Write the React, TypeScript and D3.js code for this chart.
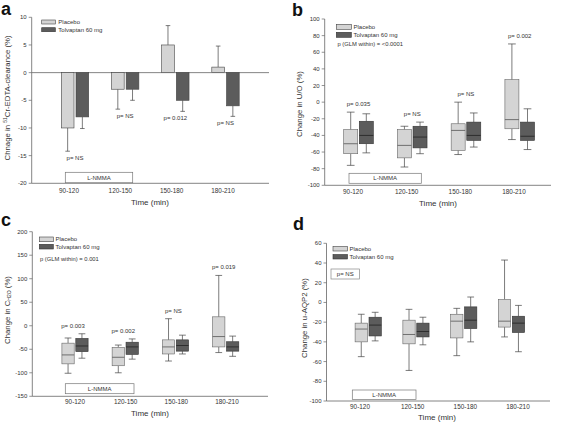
import React from "react";
import * as d3 from "d3";

// ---------- shared data ----------
const categories = ["90-120", "120-150", "150-180", "180-210"];
const seriesNames = ["Placebo", "Tolvaptan 60 mg"];

// ---------- panel a (bar chart, mean + one-sided error) ----------
const aPlaceboMean = [-10, -3, 5, 1];
const aPlaceboErr = [4.2, 3.6, 3.5, 3.8];
const aTolvMean = [-8, -3, -5, -6];
const aTolvErr = [2.1, 2.0, 2.0, 1.9];
const aPLabels = ["p= NS", "p= NS", "p= 0.012", "p= NS"];
const aTicks = [-20, -15, -10, -5, 0, 5, 10];

// ---------- panel b (box plots: [low, q1, median, q3, high]) ----------
const bPlacebo = [
  [-76, -62, -50, -33, -12],
  [-78, -67, -52, -33, -29],
  [-63, -58, -34, -26, 0],
  [-45, -32, -21, 27, 70],
];
const bTolv = [
  [-61, -50, -40, -23, -14],
  [-62, -55, -42, -29, -24],
  [-54, -46, -40, -24, -13],
  [-57, -46, -41, -24, -8],
];
const bPLabels = ["p= 0.035", "p= NS", "p= NS", "p= 0.002"];
const bTicks = [-100, -80, -60, -40, -20, 0, 20, 40, 60, 80, 100];
const bGlm = "p (GLM within) = <0.0001";

// ---------- panel c ----------
const cPlacebo = [
  [-101, -81, -62, -37, -26],
  [-100, -85, -67, -46, -41],
  [-75, -60, -45, -30, 15],
  [-57, -45, -23, 19, 107],
];
const cTolv = [
  [-69, -55, -43, -27, -17],
  [-71, -61, -45, -35, -28],
  [-60, -54, -42, -30, -20],
  [-65, -54, -45, -34, -22],
];
const cPLabels = ["p= 0.003", "p= 0.002", "p= NS", "p= 0.019"];
const cTicks = [-150, -100, -50, 0, 50, 100, 150, 200];
const cGlm = "p (GLM within) = 0.001";

// ---------- panel d ----------
const dPlacebo = [
  [-55, -40, -27, -21, -12],
  [-69, -42, -32.5, -18, -7],
  [-54, -36, -19, -12, -6],
  [-35, -25, -19, 3, 43],
];
const dTolv = [
  [-39, -34, -23, -15, -10],
  [-43, -35, -29.5, -21, -15],
  [-40, -26.5, -18, -4.5, 5.5],
  [-50, -30.5, -21, -14, -3],
];
const dTicks = [-100, -80, -60, -40, -20, 0, 20, 40, 60];
const dPText = "p= NS";

const FONT = "'Liberation Sans', Arial, Helvetica, sans-serif";
const PLACEBO_FILL = "#d4d4d4";
const TOLV_FILL = "#5c5c5c";
const LINE = "#666";

type AxisCfg = {
  axisX: number;
  xEnd: number;
  yTop: number;
  yBottom: number;
  domain: [number, number];
  ticks: number[];
};

function YAxis({ cfg, y }: { cfg: AxisCfg; y: d3.ScaleLinear<number, number> }) {
  return (
    <g>
      <line x1={cfg.axisX} x2={cfg.axisX} y1={cfg.yTop} y2={cfg.yBottom} stroke={LINE} strokeWidth={0.8} />
      <line x1={cfg.axisX} x2={cfg.xEnd} y1={cfg.yBottom} y2={cfg.yBottom} stroke={LINE} strokeWidth={0.8} />
      {cfg.ticks.map((t) => (
        <g key={t}>
          <line x1={cfg.axisX - 3} x2={cfg.axisX} y1={y(t)} y2={y(t)} stroke={LINE} strokeWidth={0.7} />
          <text x={cfg.axisX - 5} y={y(t)} fontSize={6} textAnchor="end" dominantBaseline="central" fill="#333" fontFamily={FONT}>
            {t}
          </text>
        </g>
      ))}
    </g>
  );
}

function XLabels({ xl, baseY, titleX, titleY }: { xl: d3.ScalePoint<string>; baseY: number; titleX: number; titleY: number }) {
  return (
    <g fontFamily={FONT} fill="#333">
      {categories.map((c) => (
        <text key={c} x={xl(c)} y={baseY} fontSize={6.4} textAnchor="middle">
          {c}
        </text>
      ))}
      <text x={titleX} y={titleY} fontSize={8} textAnchor="middle">
        Time (min)
      </text>
    </g>
  );
}

function Legend({ x, y1, y2, w, h, tx }: { x: number; y1: number; y2: number; w: number; h: number; tx: number }) {
  return (
    <g fontFamily={FONT} fill="#333">
      <rect x={x} y={y1} width={w} height={h} fill={PLACEBO_FILL} stroke="#444" strokeWidth={0.6} />
      <rect x={x} y={y2} width={w} height={h} fill={TOLV_FILL} stroke="#333" strokeWidth={0.6} />
      <text x={tx} y={y1 + h / 2} fontSize={6} dominantBaseline="central">{seriesNames[0]}</text>
      <text x={tx} y={y2 + h / 2} fontSize={6} dominantBaseline="central">{seriesNames[1]}</text>
    </g>
  );
}

function LNMMA({ x1, x2, y1, y2 }: { x1: number; x2: number; y1: number; y2: number }) {
  return (
    <g>
      <rect x={x1} y={y1} width={x2 - x1} height={y2 - y1} fill="#fff" stroke="#777" strokeWidth={0.7} />
      <text x={(x1 + x2) / 2} y={(y1 + y2) / 2} fontSize={6} textAnchor="middle" dominantBaseline="central" fontFamily={FONT} fill="#333">
        L-NMMA
      </text>
    </g>
  );
}

function YTitle({ x, y, children }: { x: number; y: number; children: React.ReactNode }) {
  return (
    <text transform={`translate(${x},${y}) rotate(-90)`} fontSize={7.8} textAnchor="middle" dominantBaseline="central" fontFamily={FONT} fill="#333">
      {children}
    </text>
  );
}

function Letter({ x, y, t }: { x: number; y: number; t: string }) {
  return (
    <text x={x} y={y} fontSize={18} fontWeight="bold" fontFamily={FONT} fill="#111">
      {t}
    </text>
  );
}

// ---------- panel a ----------
function PanelA() {
  const cfg: AxisCfg = { axisX: 31.7, xEnd: 269, yTop: 17.3, yBottom: 183.3, domain: [-20, 10], ticks: aTicks };
  const y = d3.scaleLinear().domain(cfg.domain).range([cfg.yBottom, cfg.yTop]);
  const xg = d3.scalePoint<string>().domain(categories).range([75, 225.5]);
  const xl = d3.scalePoint<string>().domain(categories).range([69, 223]);
  const bw = 12.7;
  const gap = 1;
  const series = [
    { mean: aPlaceboMean, err: aPlaceboErr, fill: PLACEBO_FILL, dx: -gap - bw },
    { mean: aTolvMean, err: aTolvErr, fill: TOLV_FILL, dx: gap },
  ];
  return (
    <g>
      <Letter x={1} y={15} t="a" />
      <YAxis cfg={cfg} y={y} />
      <line x1={cfg.axisX} x2={cfg.xEnd} y1={y(0)} y2={y(0)} stroke={LINE} strokeWidth={0.8} />
      {series.map((s, si) =>
        categories.map((c, i) => {
          const x0 = (xg(c) as number) + s.dx;
          const v = s.mean[i];
          const end = v >= 0 ? v + s.err[i] : v - s.err[i];
          const cx = x0 + bw / 2;
          return (
            <g key={`${si}-${c}`}>
              <line x1={cx} x2={cx} y1={y(v)} y2={y(end)} stroke="#444" strokeWidth={0.7} />
              <line x1={cx - 2.3} x2={cx + 2.3} y1={y(end)} y2={y(end)} stroke="#444" strokeWidth={0.7} />
              <rect x={x0} y={Math.min(y(v), y(0))} width={bw} height={Math.abs(y(v) - y(0))} fill={s.fill} stroke="#444" strokeWidth={0.6} />
            </g>
          );
        })
      )}
      {categories.map((c, i) => {
        const ends = [
          aPlaceboMean[i] >= 0 ? aPlaceboMean[i] : aPlaceboMean[i] - aPlaceboErr[i],
          aTolvMean[i] >= 0 ? aTolvMean[i] : aTolvMean[i] - aTolvErr[i],
        ];
        const low = Math.min(...ends);
        return (
          <text key={c} x={xg(c)} y={y(low) + 7} fontSize={6} textAnchor="middle" dominantBaseline="central" fontFamily={FONT} fill="#333">
            {aPLabels[i]}
          </text>
        );
      })}
      <Legend x={41.7} y1={20} y2={27.7} w={13.6} h={4} tx={58.3} />
      <LNMMA x1={65.3} x2={132.7} y1={172.3} y2={182.7} />
      <YTitle x={7} y={98}>
        Chnage in <tspan fontSize={5} dy={-2.5}>51</tspan>
        <tspan dy={2.5}>Cr-EDTA-clearance (%)</tspan>
      </YTitle>
      <XLabels xl={xl} baseY={193} titleX={150} titleY={204.5} />
    </g>
  );
}

// ---------- generic box panel ----------
type BoxPanelProps = {
  letter: string;
  letterPos: [number, number];
  cfg: AxisCfg;
  groupRange: [number, number];
  labelRange: [number, number];
  bw: number;
  gap: number;
  placebo: number[][];
  tolv: number[][];
  pLabels?: string[];
  pOffset?: number;
  pShift?: number;
  legend: { x: number; y1: number; y2: number; w: number; h: number; tx: number };
  glm?: { text: string; x: number; y: number };
  lnmma: { x1: number; x2: number; y1: number; y2: number };
  yTitle: { x: number; y: number; node: React.ReactNode };
  xLab: { baseY: number; titleX: number; titleY: number };
  pBox?: { x1: number; x2: number; y1: number; y2: number; text: string };
};

function BoxPanel(p: BoxPanelProps) {
  const { cfg } = p;
  const y = d3.scaleLinear().domain(cfg.domain).range([cfg.yBottom, cfg.yTop]);
  const xg = d3.scalePoint<string>().domain(categories).range(p.groupRange);
  const xl = d3.scalePoint<string>().domain(categories).range(p.labelRange);
  const series = [
    { data: p.placebo, fill: PLACEBO_FILL, stroke: "#666", med: "#555", dx: -p.gap - p.bw },
    { data: p.tolv, fill: TOLV_FILL, stroke: "#333", med: "#222", dx: p.gap },
  ];
  const cap = p.bw * 0.55;
  return (
    <g>
      <Letter x={p.letterPos[0]} y={p.letterPos[1]} t={p.letter} />
      <YAxis cfg={cfg} y={y} />
      {series.map((s, si) =>
        categories.map((c, i) => {
          const [lo, q1, med, q3, hi] = s.data[i];
          const x0 = (xg(c) as number) + s.dx;
          const cx = x0 + p.bw / 2;
          return (
            <g key={`${si}-${c}`}>
              <line x1={cx} x2={cx} y1={y(hi)} y2={y(q3)} stroke="#444" strokeWidth={0.7} />
              <line x1={cx} x2={cx} y1={y(q1)} y2={y(lo)} stroke="#444" strokeWidth={0.7} />
              <line x1={cx - cap / 2} x2={cx + cap / 2} y1={y(hi)} y2={y(hi)} stroke="#444" strokeWidth={0.7} />
              <line x1={cx - cap / 2} x2={cx + cap / 2} y1={y(lo)} y2={y(lo)} stroke="#444" strokeWidth={0.7} />
              <rect x={x0} y={y(q3)} width={p.bw} height={y(q1) - y(q3)} fill={s.fill} stroke={s.stroke} strokeWidth={0.6} />
              <line x1={x0} x2={x0 + p.bw} y1={y(med)} y2={y(med)} stroke={s.med} strokeWidth={0.8} />
            </g>
          );
        })
      )}
      {p.pLabels &&
        categories.map((c, i) => {
          const hi = Math.max(p.placebo[i][4], p.tolv[i][4]);
          return (
            <text key={c} x={(xg(c) as number) + (p.pShift || 0)} y={y(hi) - (p.pOffset || 7)} fontSize={6} textAnchor="middle" dominantBaseline="central" fontFamily={FONT} fill="#333">
              {p.pLabels![i]}
            </text>
          );
        })}
      <Legend {...p.legend} />
      {p.glm && (
        <text x={p.glm.x} y={p.glm.y} fontSize={5.8} dominantBaseline="central" fontFamily={FONT} fill="#333">
          {p.glm.text}
        </text>
      )}
      {p.pBox && (
        <g>
          <rect x={p.pBox.x1} y={p.pBox.y1} width={p.pBox.x2 - p.pBox.x1} height={p.pBox.y2 - p.pBox.y1} fill="#fff" stroke="#888" strokeWidth={0.7} />
          <text x={(p.pBox.x1 + p.pBox.x2) / 2} y={(p.pBox.y1 + p.pBox.y2) / 2} fontSize={6} textAnchor="middle" dominantBaseline="central" fontFamily={FONT} fill="#333">
            {p.pBox.text}
          </text>
        </g>
      )}
      <LNMMA {...p.lnmma} />
      <YTitle x={p.yTitle.x} y={p.yTitle.y}>{p.yTitle.node}</YTitle>
      <XLabels xl={xl} baseY={p.xLab.baseY} titleX={p.xLab.titleX} titleY={p.xLab.titleY} />
    </g>
  );
}

export default function App() {
  return (
    <svg width={567} height={422} viewBox="0 0 567 422" style={{ position: "absolute", left: 0, top: 0, background: "#fff" }}>
      <rect width={567} height={422} fill="#fff" />
      <PanelA />
      <BoxPanel
        letter="b"
        letterPos={[292, 16]}
        cfg={{ axisX: 324.7, xEnd: 551, yTop: 19, yBottom: 185.3, domain: [-100, 100], ticks: bTicks }}
        groupRange={[358.5, 519.7]}
        labelRange={[353, 514]}
        bw={14}
        gap={0.8}
        placebo={bPlacebo}
        tolv={bTolv}
        pLabels={bPLabels}
        pOffset={8}
        legend={{ x: 336.3, y1: 24.3, y2: 32.3, w: 15, h: 5, tx: 353.5 }}
        glm={{ text: bGlm, x: 337.5, y: 44 }}
        lnmma={{ x1: 349, x2: 421.3, y1: 173.3, y2: 183.3 }}
        yTitle={{ x: 299, y: 104, node: "Change in U/O (%)" }}
        xLab={{ baseY: 194, titleX: 438, titleY: 206 }}
      />
      <BoxPanel
        letter="c"
        letterPos={[1, 226]}
        cfg={{ axisX: 32.3, xEnd: 268, yTop: 231.7, yBottom: 396.3, domain: [-150, 200], ticks: cTicks }}
        groupRange={[75, 225.7]}
        labelRange={[75, 227]}
        bw={12.3}
        gap={0.8}
        placebo={cPlacebo}
        tolv={cTolv}
        pLabels={cPLabels}
        pOffset={8}
        pShift={-2}
        legend={{ x: 39.3, y1: 237, y2: 244.3, w: 14, h: 4.7, tx: 55.5 }}
        glm={{ text: cGlm, x: 40, y: 259.3 }}
        lnmma={{ x1: 65.3, x2: 134, y1: 383.7, y2: 393.7 }}
        yTitle={{
          x: 7,
          y: 310,
          node: (
            <>
              Change in C<tspan fontSize={5} dy={2}>H2O</tspan>
              <tspan dy={-2}> (%)</tspan>
            </>
          ),
        }}
        xLab={{ baseY: 404, titleX: 150, titleY: 415.5 }}
      />
      <BoxPanel
        letter="d"
        letterPos={[293, 230]}
        cfg={{ axisX: 326.5, xEnd: 550, yTop: 243.3, yBottom: 401, domain: [-100, 60], ticks: dTicks }}
        groupRange={[368.2, 511.5]}
        labelRange={[360, 518]}
        bw={12.3}
        gap={0.8}
        placebo={dPlacebo}
        tolv={dTolv}
        legend={{ x: 333, y1: 246.5, y2: 254.5, w: 14.5, h: 4.5, tx: 349.5 }}
        pBox={{ x1: 331, x2: 359.5, y1: 269, y2: 279, text: dPText }}
        lnmma={{ x1: 352.3, x2: 416, y1: 390, y2: 399.5 }}
        yTitle={{ x: 304, y: 318, node: "Change in u-AQP2 (%)" }}
        xLab={{ baseY: 409, titleX: 437, titleY: 419.5 }}
      />
    </svg>
  );
}
